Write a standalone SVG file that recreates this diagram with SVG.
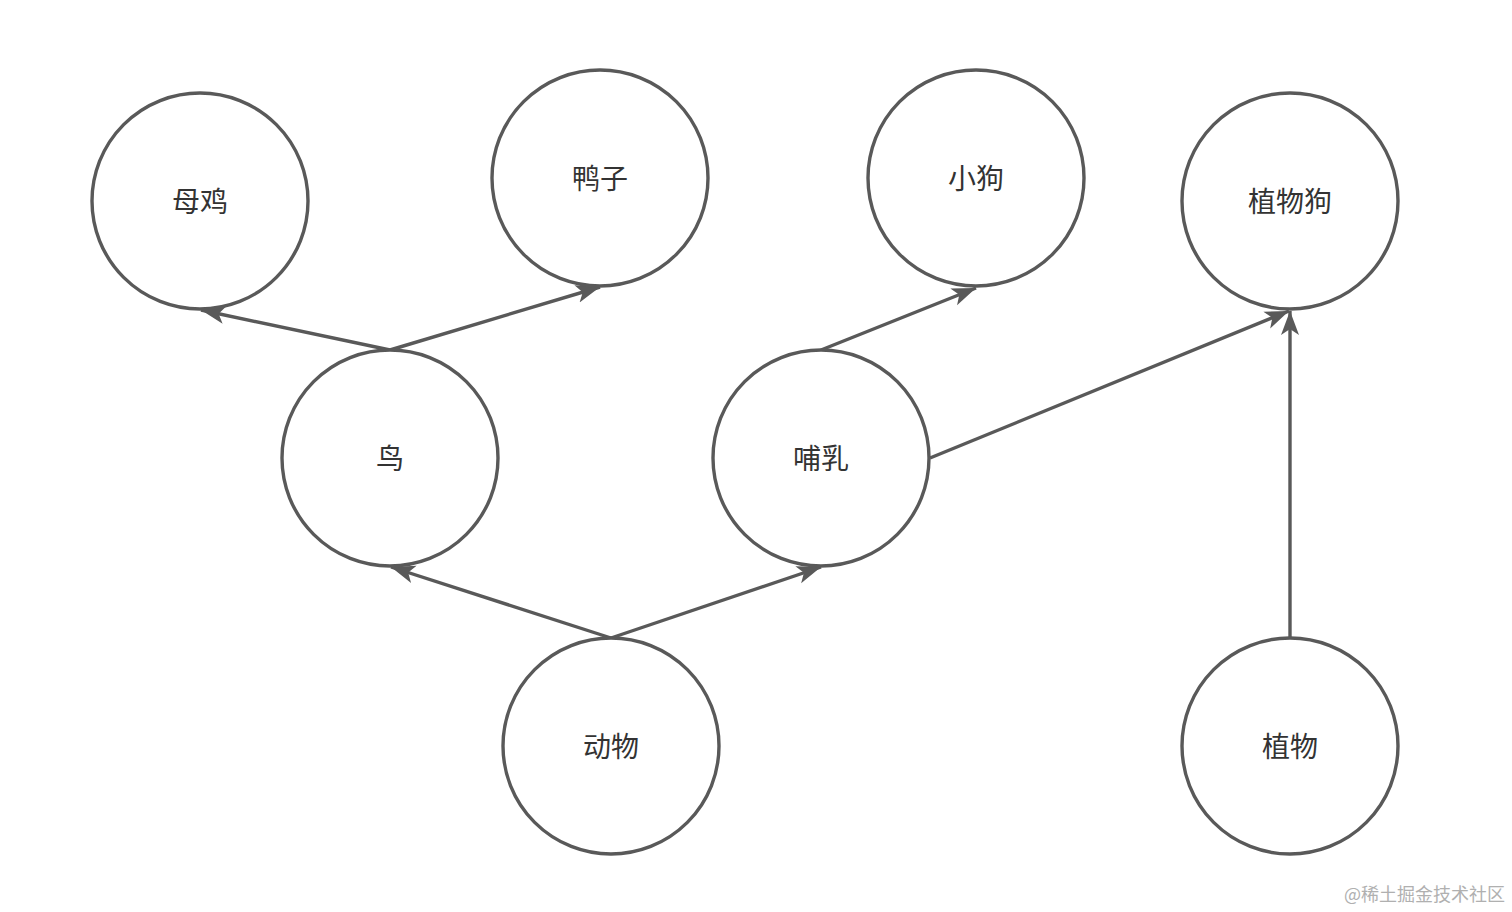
<svg xmlns="http://www.w3.org/2000/svg" width="1512" height="912" viewBox="0 0 1512 912">
<style>
.node circle{fill:#fff;stroke:#595959;stroke-width:3.4}
.node text{font-family:"Noto Sans CJK SC","Noto Sans",sans-serif;font-size:28px;fill:#333;text-anchor:middle;dominant-baseline:central}
.edge{stroke:#595959;stroke-width:3.4;fill:none;marker-end:url(#arr)}
.wm{font-family:"Noto Sans CJK SC",sans-serif;font-size:18px;fill:#b0b0b0}
</style>
<defs>
<marker id="arr" markerUnits="userSpaceOnUse" markerWidth="26" markerHeight="22" viewBox="0 0 26 22" refX="24" refY="11" orient="auto">
<path d="M0,2 L24,11 L0,20 L6,11 Z" fill="#595959"/>
</marker>
</defs>
<rect width="1512" height="912" fill="#fff"/>
<g id="connectors">
<line class="edge" x1="390" y1="350" x2="201" y2="310"/>
<line class="edge" x1="390" y1="350" x2="600" y2="287"/>
<line class="edge" x1="821" y1="350" x2="976" y2="288"/>
<line class="edge" x1="930" y1="458" x2="1289" y2="311"/>
<line class="edge" x1="1290" y1="638" x2="1290" y2="311"/>
<line class="edge" x1="611" y1="638" x2="391" y2="567"/>
<line class="edge" x1="611" y1="638" x2="821" y2="567"/>
</g>
<g id="n-muji" class="node"><circle cx="200" cy="201" r="108"/><text x="200" y="200">母鸡</text></g>
<g id="n-yazi" class="node"><circle cx="600" cy="178" r="108"/><text x="600" y="177">鸭子</text></g>
<g id="n-xiaogou" class="node"><circle cx="976" cy="178" r="108"/><text x="976" y="177">小狗</text></g>
<g id="n-zhiwugou" class="node"><circle cx="1290" cy="201" r="108"/><text x="1290" y="200">植物狗</text></g>
<g id="n-niao" class="node"><circle cx="390" cy="458" r="108"/><text x="390" y="457">鸟</text></g>
<g id="n-buru" class="node"><circle cx="821" cy="458" r="108"/><text x="821" y="457">哺乳</text></g>
<g id="n-dongwu" class="node"><circle cx="611" cy="746" r="108"/><text x="611" y="745">动物</text></g>
<g id="n-zhiwu" class="node"><circle cx="1290" cy="746" r="108"/><text x="1290" y="745">植物</text></g>
<text class="wm" x="1505" y="901" text-anchor="end">@稀土掘金技术社区</text>
</svg>
